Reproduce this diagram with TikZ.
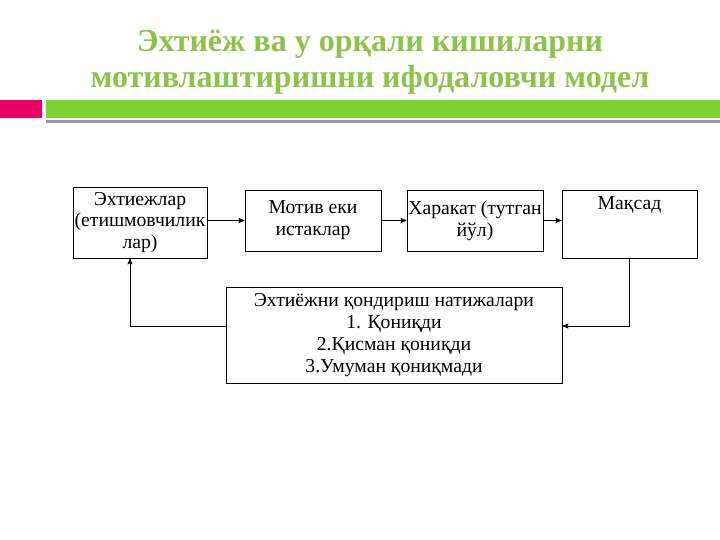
\documentclass[tikz,border=0pt]{standalone}
\usepackage{fontspec}
\setmainfont{Liberation Serif}
\usepackage{tikz}
\usetikzlibrary{arrows}
\definecolor{titlegreen}{RGB}{140,196,74}
\definecolor{bargreen}{RGB}{122,210,52}
\definecolor{barpink}{RGB}{232,0,100}
\definecolor{bargray}{RGB}{150,150,172}

\begin{document}
\begin{tikzpicture}[font=\fontsize{14}{15.5}\selectfont,
  box/.style={shape=rectangle,draw,line width=0.6pt,align=center,inner sep=1pt},
  link/.style={->,>=stealth',line width=0.6pt}]
\useasboundingbox (0,0) rectangle (18,-13.5);
% title and bars
\node(title)[text=titlegreen,font=\fontsize{22.8}{26}\selectfont\bfseries,align=center] at (9.25,-1.55){Эхтиёж ва у орқали кишиларни\\ мотивлаштиришни ифодаловчи модел};
\fill[barpink] (0,-2.5) rectangle (1.05,-2.95);
\fill[bargreen] (1.15,-2.5) rectangle (18,-2.95);
\fill[bargray] (1.15,-3.0) rectangle (18,-3.08);
% boxes
\node(needs)[box,minimum width=3.35cm,minimum height=1.775cm] at (3.5,-5.5625){Эхтиежлар\\ (етишмовчилик\\ лар)};
\node(motive)[box,minimum width=3.4cm,minimum height=1.525cm] at (7.825,-5.5125){Мотив еки\\ истаклар};
\node(action)[box,minimum width=3.4cm,minimum height=1.525cm] at (11.875,-5.5125){Харакат (тутган\\ йўл)};
\node(goal)[box,minimum width=3.375cm,minimum height=1.7cm] at (15.7375,-5.6){Мақсад\\[1em]};
\node(result)[box,minimum width=8.4cm,minimum height=2.4cm] at (9.85,-8.375){Эхтиёжни қондириш натижалари\\ 1. Қониқди\\ 2.Қисман қониқди\\ 3.Умуман қониқмади};
% connectors
\draw[link] (motive.west -| needs.east)--(motive.west);
\draw[link] (motive)--(action);
\draw[link] (action.east)--(action.east -| goal.west);
\draw[link] (goal.south)|-([yshift=0.225cm]result.east);
\draw[link] ([yshift=0.225cm]result.west)-|([xshift=-0.25cm]needs.south);
\end{tikzpicture}
\end{document}
